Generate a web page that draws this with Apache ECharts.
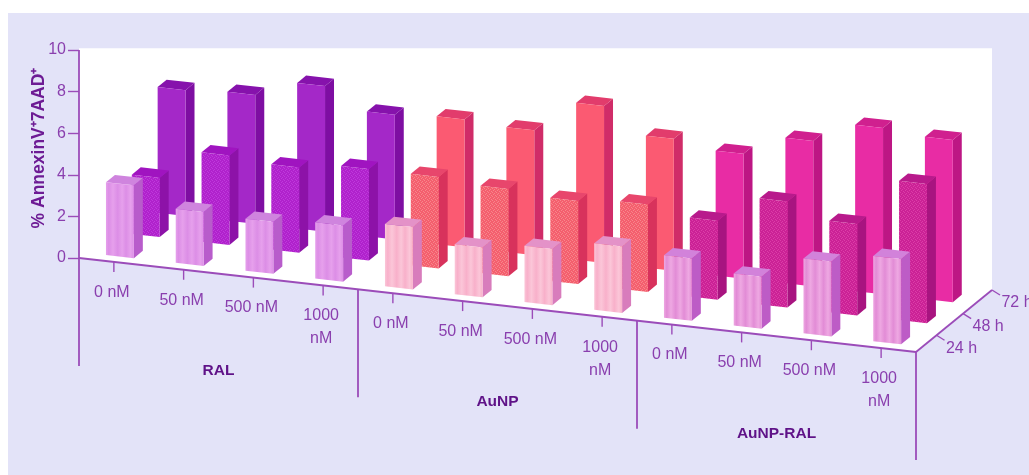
<!DOCTYPE html>
<html><head><meta charset="utf-8">
<style>html,body{margin:0;padding:0;background:#fff;width:1029px;height:475px;overflow:hidden}
#bg{position:absolute;left:8px;top:13px;right:0;bottom:0;background:#e3e3f8}
#c{position:absolute;left:0;top:0;width:1029px;height:475px;filter:blur(0.55px)}</style>
<script src="https://cdn.jsdelivr.net/npm/echarts@6/dist/echarts.min.js"></script>
</head><body><div id="bg"></div><div id="c"></div>
<script>
var concentrations = ['0 nM','50 nM','500 nM','1000\nnM','0 nM','50 nM','500 nM','1000\nnM','0 nM','50 nM','500 nM','1000\nnM'];
var groups = ['RAL','AuNP','AuNP-RAL'];
var times = ['24 h','48 h','72 h'];
var yTitle = '% AnnexinV\u207A7AAD\u207A';
var values24h = [3.5,2.6,2.5,2.7,3.0,2.4,2.7,3.2,3.0,2.5,3.6,4.1];
var values48h = [2.85,4.3,4.1,4.4,4.4,4.2,4.0,4.2,3.8,5.1,4.4,6.7];
var values72h = [6.05,6.2,7.0,6.0,6.15,6.0,7.55,6.35,6.0,7.0,8.0,7.8];
var yTicks = [0,2,4,6,8,10];

// oblique projection of the 3D box onto the library's 2D cartesian
var perCatDrop = 94/837*69.75/20.8;      // value units per category
var depthX = 76/69.75, depthY = 62/20.8; // per unit depth
function proj(api,x,z,v){ return api.coord([x+depthX*z, v-perCatDrop*x+depthY*z]); }

var rowZ = [0.085,0.425,0.765], barD = 0.118, barW = 0.40, barX = 0.294;
var tickZ = [0.27,0.62,1];

function hatch(base,dark){
  var c=document.createElement('canvas');c.width=c.height=4;var g=c.getContext('2d');
  g.fillStyle=base;g.fillRect(0,0,4,4);g.fillStyle=dark;
  g.fillRect(0,0,1,1);g.fillRect(2,1,1,1);g.fillRect(1,2,1,1);g.fillRect(3,3,1,1);
  return {image:c,repeat:'repeat'};
}
function stripes(a,b){
  var st=[],n=[0,0.1,0.25,0.42,0.58,0.72,0.88,1],cs=[a,b,a,b,a,b,a,b];
  n.forEach(function(o,i){st.push({offset:o,color:cs[i]});});
  return new echarts.graphic.LinearGradient(0,0,1,0,st);
}
var palette = [
 [ {front:stripes('#e6a0ec','#dc8ee6'),side:'#b85ccb',top:'#cf84de'},
   {front:stripes('#fbc6d8','#f8b0ca'),side:'#d87cbc',top:'#e492c8'},
   {front:stripes('#eea8e2','#e28cd6'),side:'#bd5cc6',top:'#d282da'} ],
 [ {front:hatch('#b022cc','#bf3adc'),side:'#8d12a8',top:'#a014c0'},
   {front:hatch('#f45f6e','#f8868c'),side:'#d8325c',top:'#e8466c'},
   {front:hatch('#cb2296','#dc3ea8'),side:'#a81480',top:'#b81a8c'} ],
 [ {front:'#a428c8',side:'#7e0ea2',top:'#8612ac'},
   {front:'#fb5a72',side:'#d02c68',top:'#e23c6c'},
   {front:'#e82ca4',side:'#bd1684',top:'#d0208f'} ]
];
function barSeries(values,row){
  return {type:'custom',coordinateSystem:'cartesian2d',z:10+(2-row),data:values.map(function(v,i){return [i,v];}),silent:true,
   encode:{x:0,y:1},clip:false,
   renderItem:function(p,api){
     var i=api.value(0),v=api.value(1),x0=i+barX,x1=x0+barW,z0=rowZ[row],z1=z0+barD;
     var s=palette[row][Math.floor(i/4)];
     var poly=function(pts,fill){return {type:'polygon',shape:{points:pts},style:{fill:fill,stroke:null}};};
     return {type:'group',children:[
       poly([proj(api,x1,z0,0),proj(api,x1,z1,0),proj(api,x1,z1,v),proj(api,x1,z0,v)],s.side),
       poly([proj(api,x0,z0,v),proj(api,x1,z0,v),proj(api,x1,z1,v),proj(api,x0,z1,v)],s.top),
       poly([proj(api,x0,z0,0),proj(api,x1,z0,0),proj(api,x1,z0,v),proj(api,x0,z0,v)],s.front)
     ]};
   }};
}
var lineCol='#9b4cb9', textCol='#8a3fae';
function line(a,b,w){return {type:'line',shape:{x1:a[0],y1:a[1],x2:b[0],y2:b[1]},style:{stroke:lineCol,lineWidth:w||1.8}};}
var font='"Liberation Sans",Arial,sans-serif';

var wall = {type:'custom',z:1,silent:true,clip:false,data:[[0]],encode:{x:0},
 renderItem:function(p,api){
   var a=api.coord([0,10.08]),b=api.coord([12+depthX,10.08]),c=proj(api,12,1,0),d=proj(api,12,0,0),e=proj(api,0,0,0);
   return {type:'polygon',shape:{points:[a,b,c,d,e]},style:{fill:'#fff'}};
 }};
var frame = {type:'custom',z:5,silent:true,clip:false,data:[[0]],encode:{x:0},
 renderItem:function(p,api){
   var kids=[line(proj(api,0,0,0),proj(api,12,0,0)),line(proj(api,12,0,0),proj(api,12,1,0))];
   [0,4,8,12].forEach(function(x){var q=proj(api,x,0,0);kids.push(line(q,[q[0],q[1]+108]));});
   kids.push(line(api.coord([0,10]),proj(api,0,0,0)));
   concentrations.forEach(function(t,i){
     var q=proj(api,i+0.5,0,0);
     kids.push(line(q,[q[0],q[1]+10],1.4));
     kids.push({type:'text',style:{text:t,x:q[0]-2,y:q[1]+19,align:'center',verticalAlign:'top',fill:textCol,font:'16px '+font,lineHeight:23}});
   });
   groups.forEach(function(t,i){
     var q=proj(api,i*4+2,0,0);
     kids.push({type:'text',style:{text:t,x:q[0],y:q[1]+97,align:'center',verticalAlign:'middle',fill:'#5f1288',font:'bold 15.5px '+font}});
   });
   times.forEach(function(t,i){
     var q=proj(api,12,tickZ[i],0);
     kids.push(line(q,[q[0]+8,q[1]+5],1.4));
     kids.push({type:'text',style:{text:t,x:q[0]+25,y:q[1]+13,align:'center',verticalAlign:'middle',fill:textCol,font:'16px '+font}});
   });
   var m=api.coord([0,5]);
   kids.push({type:'text',x:m[0]-40,y:m[1]-6,rotation:Math.PI/2,style:{text:yTitle,x:0,y:0,align:'center',verticalAlign:'middle',fill:'#6d1b94',font:'bold 17.5px '+font}});
   return {type:'group',children:kids};
 }};

var chart=echarts.init(document.getElementById('c'),null,{renderer:'canvas'});
chart.setOption({
 animation:false,backgroundColor:'transparent',
 grid:{left:79,top:50,width:837,height:208,containLabel:false},
 xAxis:{type:'value',min:0,max:12,show:false},
 yAxis:{type:'value',min:0,max:10,interval:2,
   axisLine:{show:false},axisTick:{show:true,length:11,lineStyle:{color:lineCol,width:1.4}},
   splitLine:{show:false},
   axisLabel:{color:textCol,fontSize:16,fontFamily:font,margin:13,formatter:function(v){return yTicks.indexOf(v)>=0?String(v):'';}}},
 series:[wall,frame,barSeries(values72h,2),barSeries(values48h,1),barSeries(values24h,0)]
});
</script></body></html>
